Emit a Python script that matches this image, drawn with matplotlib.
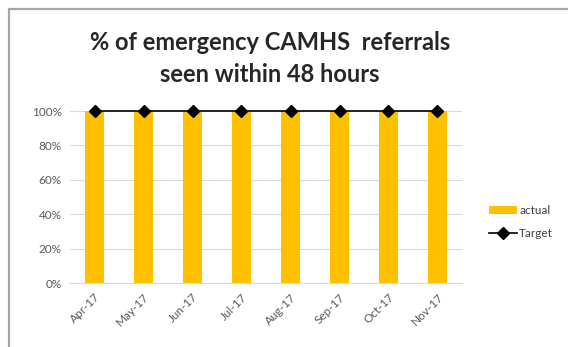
import matplotlib.pyplot as plt
from matplotlib.lines import Line2D
import numpy as np

months = ['Apr-17', 'May-17', 'Jun-17', 'Jul-17', 'Aug-17', 'Sep-17', 'Oct-17', 'Nov-17']
actual = [100, 100, 100, 100, 100, 100, 100, 100]
target = [100, 100, 100, 100, 100, 100, 100, 100]
yticks = [0, 20, 40, 60, 80, 100]

plt.rcParams['font.family'] = ['Lato', 'DejaVu Sans']

fig = plt.figure(figsize=(5.68, 3.47), dpi=100)
# chart frame (left and top edges only)
fx, fy = 8.5 / 568, 1 - 8.5 / 347
fig.lines.append(Line2D([fx, fx, 1], [0, fy, fy], transform=fig.transFigure,
                        color='#a6a6a6', linewidth=1.6))

ax = fig.add_axes([70 / 568, 1 - 283 / 347, 392 / 568, 172 / 347])
x = np.arange(len(months))
bars = ax.bar(x, actual, width=0.39, color='#FFC000', label='actual', zorder=2)
line, = ax.plot(x, target, color='black', marker='D', markersize=6.5, linewidth=1.2,
                label='Target', zorder=3, clip_on=False)

ax.set_xlim(-0.5, len(months) - 0.5)
ax.set_ylim(0, 100)
ax.set_yticks(yticks)
ax.set_yticklabels([f'{v}%' for v in yticks])
ax.set_xticks(x)
ax.set_xticklabels(months, rotation=45, ha='right', rotation_mode='anchor')
ax.tick_params(axis='both', length=0, labelsize=8.5, colors='#595959', pad=6)
ax.grid(axis='y', color='#d9d9d9', linewidth=0.8, zorder=0)
ax.set_axisbelow(True)
for s in ['top', 'right', 'left']:
    ax.spines[s].set_visible(False)
ax.spines['bottom'].set_color('#d9d9d9')

fig.text(0.475, 1 - 43 / 347, '% of emergency CAMHS  referrals', ha='center', va='center',
         fontsize=17, fontweight='bold', color='#262626')
fig.text(0.475, 1 - 75 / 347, 'seen within 48 hours', ha='center', va='center',
         fontsize=17, fontweight='bold', color='#262626')

fig.legend([bars, line], ['actual', 'Target'], loc='center left',
           bbox_to_anchor=(478 / 568, 1 - 222 / 347), frameon=False,
           fontsize=8.5, labelcolor='#404040', handlelength=2.4, handletextpad=0.2,
           labelspacing=1.0)

fig.savefig('out.png', dpi=100)
